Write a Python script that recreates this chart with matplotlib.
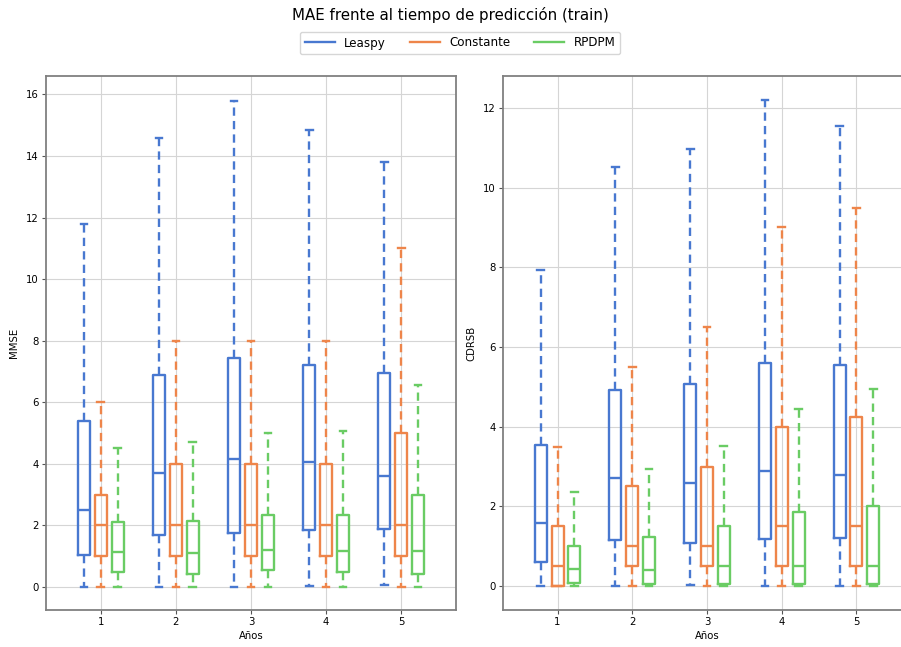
import matplotlib
matplotlib.use("Agg")
import matplotlib.pyplot as plt
from matplotlib.lines import Line2D

years = [1, 2, 3, 4, 5]
models = ["Leaspy", "Constante", "RPDPM"]
colors = ["#4878d0", "#ee854a", "#6acc64"]

# MMSE: (whislo, q1, med, q3, whishi) por año
mmse_leaspy = [(0, 1.05, 2.5, 5.4, 11.8), (0, 1.7, 3.7, 6.9, 14.6), (0, 1.75, 4.15, 7.45, 15.8),
               (0.02, 1.85, 4.05, 7.2, 14.85), (0.05, 1.87, 3.6, 6.95, 13.8)]
mmse_const = [(0, 1, 2, 3, 6), (0, 1, 2, 4, 8), (0, 1, 2, 4, 8), (0, 1, 2, 4, 8), (0, 1, 2, 5, 11)]
mmse_rpdpm = [(0, 0.5, 1.15, 2.1, 4.5), (0, 0.42, 1.1, 2.15, 4.7), (0, 0.55, 1.2, 2.35, 5.0),
              (0, 0.47, 1.18, 2.33, 5.05), (0, 0.42, 1.18, 3.0, 6.55)]

# CDRSB
cdr_leaspy = [(0, 0.6, 1.58, 3.55, 7.92), (0, 1.15, 2.7, 4.92, 10.52), (0.03, 1.08, 2.58, 5.07, 10.98),
              (0.01, 1.18, 2.88, 5.6, 12.2), (0.01, 1.2, 2.8, 5.55, 11.55)]
cdr_const = [(0, 0, 0.5, 1.5, 3.5), (0, 0.5, 1.0, 2.5, 5.5), (0, 0.5, 1.0, 3.0, 6.5),
             (0, 0.5, 1.5, 4.0, 9.0), (0, 0.5, 1.5, 4.25, 9.5)]
cdr_rpdpm = [(0, 0.08, 0.43, 1.0, 2.37), (0, 0.04, 0.4, 1.22, 2.95), (0, 0.06, 0.5, 1.5, 3.52),
             (0, 0.06, 0.5, 1.85, 4.45), (0, 0.05, 0.5, 2.02, 4.95)]


def to_stats(rows):
    return [dict(whislo=a, q1=b, med=c, q3=d, whishi=e) for a, b, c, d, e in rows]


def draw(ax, series, ylabel):
    offsets = [-0.225, 0, 0.225]
    for s, off, col in zip(series, offsets, colors):
        ax.bxp(to_stats(s), positions=[y + off for y in years], widths=0.16,
               capwidths=0.09, showfliers=False, patch_artist=False,
               boxprops=dict(color=col, linewidth=1.7),
               medianprops=dict(color=col, linewidth=1.7),
               whiskerprops=dict(color=col, linewidth=1.7, linestyle=(0, (3.5, 2.2))),
               capprops=dict(color=col, linewidth=1.7),
               manage_ticks=False)
    ax.set_xticks(years)
    ax.set_xticklabels([str(y) for y in years])
    ax.set_xlim(0.27, 5.73)
    ax.set_xlabel("Años", fontsize=7.3, labelpad=3)
    ax.set_ylabel(ylabel, fontsize=7.3, labelpad=5)
    ax.tick_params(labelsize=7.3, length=2.6, pad=2.5, color="#555555")
    ax.grid(True, color="#d5d5d5", linewidth=0.8)
    ax.set_axisbelow(True)
    for sp in ax.spines.values():
        sp.set_color("#808080")
        sp.set_linewidth(1.3)


fig = plt.figure(figsize=(9.01, 6.47), dpi=100)
W, H = 901, 647
ax1 = fig.add_axes([46 / W, 1 - 610 / H, 410 / W, 534 / H])
ax2 = fig.add_axes([503 / W, 1 - 610 / H, 408 / W, 534 / H])

draw(ax1, [mmse_leaspy, mmse_const, mmse_rpdpm], "MMSE")
ax1.set_ylim(-0.75, 16.6)
ax1.set_yticks(range(0, 17, 2))

draw(ax2, [cdr_leaspy, cdr_const, cdr_rpdpm], "CDRSB")
ax2.set_ylim(-0.6, 12.8)
ax2.set_yticks(range(0, 13, 2))

fig.suptitle("MAE frente al tiempo de predicción (train)", fontsize=10.8, y=1 - 15 / H, va="center")
handles = [Line2D([], [], color=c, linewidth=1.7) for c in colors]
fig.legend(handles, models, loc="center", bbox_to_anchor=(460 / W, 1 - 43 / H),
           ncol=3, fontsize=8.6, frameon=True, columnspacing=2.0, handlelength=2.5)

fig.savefig("out.png", dpi=100)
